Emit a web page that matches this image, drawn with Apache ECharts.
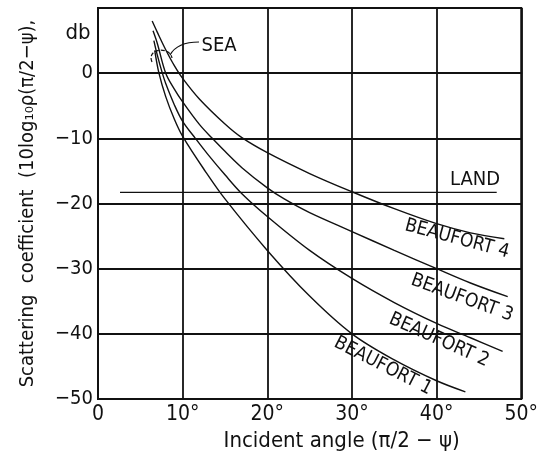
<!DOCTYPE html>
<html>
<head>
<meta charset="utf-8">
<title>Scattering coefficient vs incident angle</title>
<script src="https://cdn.jsdelivr.net/npm/echarts@6/dist/echarts.min.js"></script>
<style>
  html, body { margin: 0; padding: 0; background: #fff; }
  #chart { width: 541px; height: 461px; }
</style>
</head>
<body>
<div id="chart"></div>
<script>
// values: [incident angle (deg), dB]
var beaufort4 = [[6.4, 8.0], [7, 6.3], [8, 3.6], [9, 1.2], [10, -0.8], [12, -4.0], [15, -7.8], [17, -9.9],
  [20, -12.2], [25, -15.4], [30, -18.2], [35, -20.8], [40, -23.1], [44, -24.5], [48, -25.4]];
var beaufort3 = [[6.5, 6.5], [7, 4.6], [8, 0.0], [9, -2.4], [10, -4.4], [12, -7.9], [13.5, -10.0], [15, -12.0],
  [17, -14.5], [20, -17.6], [22, -19.3], [25, -21.4], [30, -24.3], [35, -27.2], [40, -30.0], [44, -32.2], [48.4, -34.3]];
var beaufort2 = [[6.6, 5.0], [7, 2.8], [7.6, 0.0], [8, -1.6], [9, -4.8], [10, -7.4], [11.5, -10.0], [13, -12.5],
  [15, -15.6], [17, -18.5], [20, -22.0], [25, -27.2], [30, -31.5], [35, -35.2], [40, -38.4], [44, -40.6], [47.8, -42.7]];
var beaufort1 = [[6.7, 3.5], [7.2, 0.0], [8, -3.6], [9, -7.0], [10, -9.7], [12.7, -15.1], [15, -19.3], [20, -27.2],
  [25, -34.2], [30, -40.0], [35, -44.0], [40, -47.2], [43.4, -48.9]];
var land = [[2.6, -18.3], [47.1, -18.3]];

var xTickLabels = {0: '0', 10: '10°', 20: '20°', 30: '30°', 40: '40°', 50: '50°'};
var yTickLabels = {10: '', 0: '0', '-10': '−10', '-20': '−20', '-30': '−30', '-40': '−40', '-50': '−50'};

var FONT = '"Liberation Sans Narrow", "DejaVu Sans Condensed", "Liberation Sans", sans-serif';
var INK = '#111';

var chart = echarts.init(document.getElementById('chart'));

function curve(name, data) {
    return {
        name: name,
        type: 'line',
        data: data,
        smooth: 0.35,
        symbol: 'none',
        lineStyle: { color: INK, width: 1.4 },
        silent: true
    };
}

function note(text, x, y, deg, size) {
    return {
        type: 'text',
        x: x,
        y: y,
        rotation: -deg * Math.PI / 180,
        style: {
            text: text,
            fill: INK,
            font: size + 'px ' + FONT,
            align: 'center',
            verticalAlign: 'middle'
        }
    };
}

var option = {
    backgroundColor: '#fff',
    animation: false,
    grid: {
        left: 98, right: 14, top: 8, bottom: 62,
        show: true, borderColor: INK, borderWidth: 2
    },
    xAxis: {
        type: 'value',
        min: 0, max: 50, interval: 10,
        name: 'Incident angle (π/2 − ψ)',
        nameLocation: 'middle',
        nameGap: 27,
        nameTextStyle: { color: INK, fontFamily: FONT, fontSize: 22, padding: [0, 0, 0, 64] },
        axisLine: { show: true, lineStyle: { color: INK, width: 2 } },
        axisTick: { show: false },
        axisLabel: {
            color: INK, fontFamily: FONT, fontSize: 21, margin: 5,
            formatter: function (v) { return xTickLabels[v]; }
        },
        splitLine: { show: true, lineStyle: { color: INK, width: 1.8 } }
    },
    yAxis: {
        type: 'value',
        min: -50, max: 10, interval: 10,
        name: 'Scattering  coefficient  (10log₁₀ρ(π/2−ψ),',
        nameLocation: 'middle',
        nameGap: 60,
        nameRotate: 90,
        nameTextStyle: { color: INK, fontFamily: FONT, fontSize: 20 },
        axisLine: { show: true, lineStyle: { color: INK, width: 2 } },
        axisTick: { show: false },
        axisLabel: {
            color: INK, fontFamily: FONT, fontSize: 20, margin: 5,
            formatter: function (v) { return yTickLabels[v]; }
        },
        splitLine: { show: true, lineStyle: { color: INK, width: 1.8 } }
    },
    series: [
        curve('BEAUFORT 4', beaufort4),
        curve('BEAUFORT 3', beaufort3),
        curve('BEAUFORT 2', beaufort2),
        curve('BEAUFORT 1', beaufort1),
        {
            name: 'LAND',
            type: 'line',
            data: land,
            symbol: 'none',
            lineStyle: { color: INK, width: 1.4 },
            silent: true
        }
    ],
    graphic: [
        note('db', 78, 33, 0, 22),
        note('SEA', 219, 46, 0, 20),
        note('LAND', 475, 180, 0, 20),
        note('BEAUFORT 4', 457, 239, 15, 19),
        note('BEAUFORT 3', 462, 298, 20, 19),
        note('BEAUFORT 2', 439, 340, 24, 19),
        note('BEAUFORT 1', 383, 366, 27, 19),
        // leader from the SEA label to the bracket round the curve tops
        {
            type: 'bezierCurve',
            shape: { x1: 199, y1: 42, x2: 170, y2: 55, cpx1: 185, cpy1: 42, cpx2: 175, cpy2: 46 },
            style: { stroke: INK, lineWidth: 1.2, fill: null }
        },
        {
            type: 'bezierCurve',
            shape: { x1: 152, y1: 62, x2: 172, y2: 58, cpx1: 146, cpy1: 48, cpx2: 170, cpy2: 46 },
            style: { stroke: INK, lineWidth: 1.2, fill: null, lineDash: [4, 2] }
        }
    ]
};

chart.setOption(option);
</script>
</body>
</html>
